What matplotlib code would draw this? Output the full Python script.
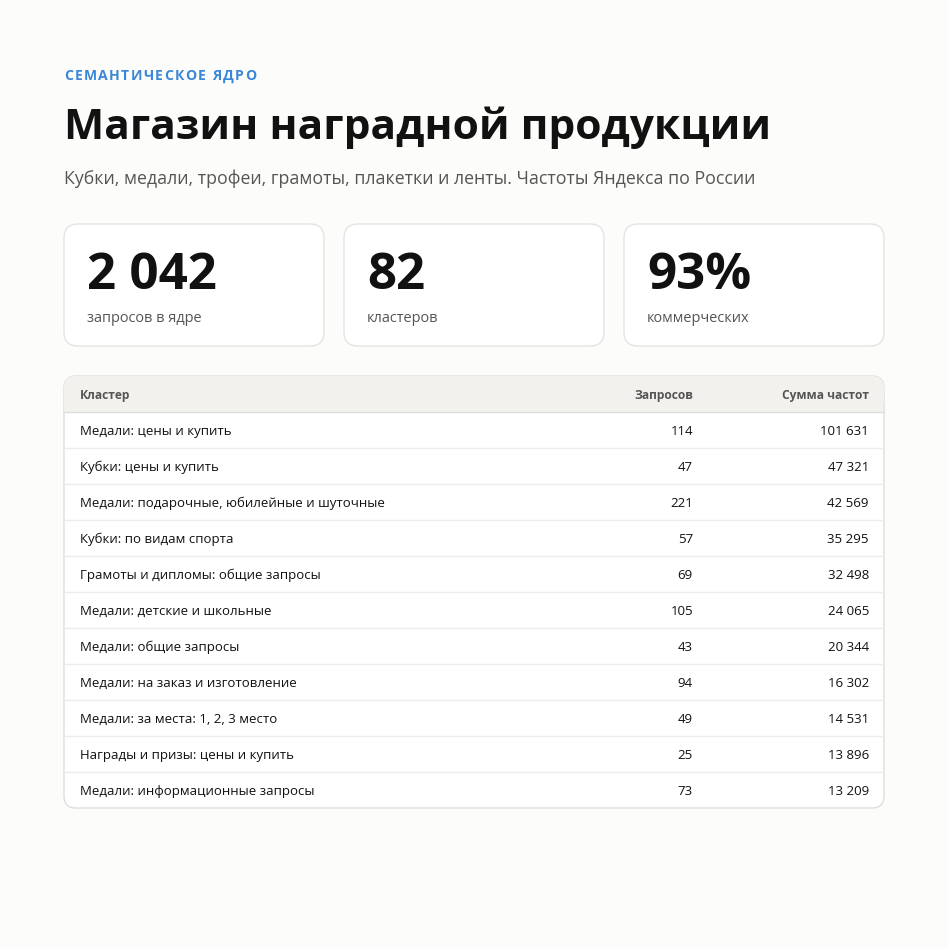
import matplotlib.pyplot as plt
from matplotlib.patches import FancyBboxPatch, Rectangle

plt.rcParams['font.family'] = ['Open Sans', 'DejaVu Sans']

# data
kpi_values = ['2 042', '82', '93%']
kpi_labels = ['запросов в ядре', 'кластеров', 'коммерческих']
clusters = [
    'Медали: цены и купить',
    'Кубки: цены и купить',
    'Медали: подарочные, юбилейные и шуточные',
    'Кубки: по видам спорта',
    'Грамоты и дипломы: общие запросы',
    'Медали: детские и школьные',
    'Медали: общие запросы',
    'Медали: на заказ и изготовление',
    'Медали: за места: 1, 2, 3 место',
    'Награды и призы: цены и купить',
    'Медали: информационные запросы',
]
queries = [114, 47, 221, 57, 69, 105, 43, 94, 49, 25, 73]
freq_sums = [101631, 47321, 42569, 35295, 32498, 24065, 20344, 16302, 14531, 13896, 13209]


def fmt(n):
    return f'{n:,}'.replace(',', ' ')


def px(p):
    return p * 0.72  # pixels -> points at dpi 100


fig = plt.figure(figsize=(9.48, 9.48), dpi=100)
fig.patch.set_facecolor('#fcfcfa')
ax = fig.add_axes([0, 0, 1, 1])
ax.set_xlim(0, 948)
ax.set_ylim(948, 0)
ax.axis('off')

# letter-spaced kicker, drawn letter by letter
kicker = 'СЕМАНТИЧЕСКОЕ ЯДРО'
t = ax.text(64, 76, kicker, color='#3a86d8', fontsize=px(14), fontweight='bold', va='center')
fig.canvas.draw()
w = t.get_window_extent().width
t.remove()
step = (256 - 64 - w) / (len(kicker) - 1)
x = 64
r = fig.canvas.get_renderer()
for ch in kicker:
    tt = ax.text(x, 76, ch, color='#3a86d8', fontsize=px(14), fontweight='bold', va='center')
    x += tt.get_window_extent(r).width + step

ax.text(64, 128, 'Магазин наградной продукции', color='#111111',
        fontsize=px(42.5), fontweight='bold', va='center')
ax.text(64, 179, 'Кубки, медали, трофеи, грамоты, плакетки и ленты. Частоты Яндекса по России',
        color='#555555', fontsize=px(17.8), va='center')

# KPI cards
for i, (v, lab) in enumerate(zip(kpi_values, kpi_labels)):
    x0 = 64 + i * 280
    ax.add_patch(FancyBboxPatch((x0, 224), 260, 122, boxstyle='round,pad=0,rounding_size=14',
                                fc='white', ec='#e4e4e4', lw=1))
    ax.text(x0 + 23, 276, v, fontsize=px(51), fontweight='bold', color='#111111', va='center')
    ax.text(x0 + 23, 319, lab, fontsize=px(14.5), color='#555555', va='center')

# table
top, row_h = 376, 36
n = len(clusters)
bottom = top + row_h * (n + 1)
ax.add_patch(FancyBboxPatch((64, top), 820, bottom - top, boxstyle='round,pad=0,rounding_size=12',
                            fc='white', ec='#dedede', lw=1, zorder=1))
hdr = FancyBboxPatch((64, top), 820, row_h, boxstyle='round,pad=0,rounding_size=12',
                     fc='#f3f1ee', ec='none', zorder=2)
ax.add_patch(hdr)
ax.add_patch(Rectangle((64.5, top + 18), 819, row_h - 18, fc='#f3f1ee', ec='none', zorder=2))
ax.plot([64, 884], [top + row_h] * 2, color='#dedede', lw=1, zorder=3)
hy = top + row_h / 2 + 1.5
ax.text(80, hy, 'Кластер', fontsize=px(12), fontweight='bold', color='#555555', va='center', zorder=4)
ax.text(693, hy, 'Запросов', fontsize=px(12), fontweight='bold', color='#555555', va='center', ha='right', zorder=4)
ax.text(869, hy, 'Сумма частот', fontsize=px(12), fontweight='bold', color='#555555', va='center', ha='right', zorder=4)

for i, (c, q, f) in enumerate(zip(clusters, queries, freq_sums)):
    y = top + row_h * (i + 1)
    if i > 0:
        ax.plot([65, 883], [y, y], color='#ececec', lw=1, zorder=3)
    cy = y + row_h / 2 + 1.5
    ax.text(80, cy, c, fontsize=px(13.2), color='#111111', va='center', zorder=4)
    ax.text(693, cy, str(q), fontsize=px(13.2), color='#111111', va='center', ha='right', zorder=4)
    ax.text(869, cy, fmt(f), fontsize=px(13.2), color='#111111', va='center', ha='right', zorder=4)

fig.savefig('out.png', dpi=100, facecolor=fig.get_facecolor())
